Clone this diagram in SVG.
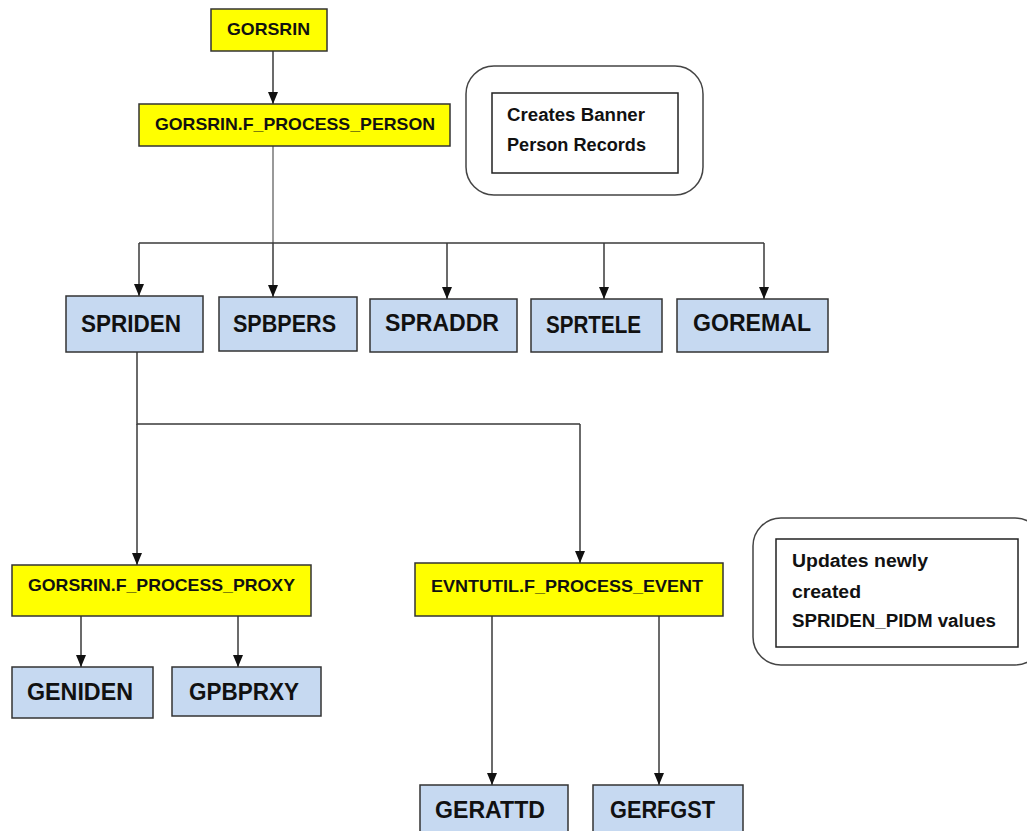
<svg xmlns="http://www.w3.org/2000/svg" width="1027" height="831" viewBox="0 0 1027 831">
<defs>
<marker id="arr" viewBox="0 0 12 10" refX="12" refY="5" markerWidth="12" markerHeight="10" markerUnits="userSpaceOnUse" orient="auto">
<path d="M0,0 L12,5 L0,10 Z" fill="#111"/>
</marker>
<style>
.y{fill:#ffff00;stroke:#333;stroke-width:1.5}
.b{fill:#c6d9f1;stroke:#333;stroke-width:1.5}
.ty{font-family:"Liberation Sans",Arial,sans-serif;font-weight:bold;font-size:17px;fill:#111}
.tb{font-family:"Liberation Sans",Arial,sans-serif;font-weight:bold;font-size:24px;fill:#111}
.tc{font-family:"Liberation Sans",Arial,sans-serif;font-weight:bold;font-size:18px;fill:#111}
.c{fill:none;stroke:#3a3a3a;stroke-width:1.5}
.ca{fill:none;stroke:#3a3a3a;stroke-width:1.5;marker-end:url(#arr)}
.ro{fill:#fff;stroke:#444;stroke-width:1.5}
.ri{fill:#fff;stroke:#222;stroke-width:1.5}
</style>
</defs>
<rect width="1027" height="831" fill="#fff"/>
<g id="connectors">
<path class="ca" d="M273,51 V104"/>
<path class="c" d="M273,146 V243" style="stroke:#777"/>
<path class="c" d="M139,243 H764"/>
<path class="ca" d="M139,243 V296"/>
<path class="ca" d="M273,243 V297"/>
<path class="ca" d="M447,243 V299"/>
<path class="ca" d="M604,243 V299"/>
<path class="ca" d="M764,243 V299"/>
<path class="c" d="M137,352 V424 H580"/>
<path class="ca" d="M137,424 V565"/>
<path class="ca" d="M580,424 V563"/>
<path class="ca" d="M81,616 V667"/>
<path class="ca" d="M238,616 V667"/>
<path class="ca" d="M492,616 V785"/>
<path class="ca" d="M659,616 V785"/>
</g>
<g id="gorsrin">
<rect class="y" x="211" y="9" width="116" height="42"/>
<text class="ty" x="227" y="35" textLength="83" lengthAdjust="spacingAndGlyphs">GORSRIN</text>
</g>
<g id="process_person">
<rect class="y" x="139" y="104" width="311" height="42"/>
<text class="ty" x="155" y="130" textLength="280" lengthAdjust="spacingAndGlyphs">GORSRIN.F_PROCESS_PERSON</text>
</g>
<g id="note1">
<rect class="ro" x="466" y="66" width="237" height="129" rx="28" ry="28"/>
<rect class="ri" x="492" y="93" width="186" height="80"/>
<text class="tc" x="507" y="121" textLength="138" lengthAdjust="spacingAndGlyphs">Creates Banner</text>
<text class="tc" x="507" y="151" textLength="139" lengthAdjust="spacingAndGlyphs">Person Records</text>
</g>
<g id="spriden">
<rect class="b" x="66" y="296" width="137" height="56"/>
<text class="tb" x="81" y="332" textLength="100" lengthAdjust="spacingAndGlyphs">SPRIDEN</text>
</g>
<g id="spbpers">
<rect class="b" x="219" y="297" width="138" height="54"/>
<text class="tb" x="233" y="332" textLength="103" lengthAdjust="spacingAndGlyphs">SPBPERS</text>
</g>
<g id="spraddr">
<rect class="b" x="370" y="299" width="147" height="53"/>
<text class="tb" x="385" y="331" textLength="114" lengthAdjust="spacingAndGlyphs">SPRADDR</text>
</g>
<g id="sprtele">
<rect class="b" x="531" y="299" width="131" height="53"/>
<text class="tb" x="546" y="333" textLength="95" lengthAdjust="spacingAndGlyphs">SPRTELE</text>
</g>
<g id="goremal">
<rect class="b" x="677" y="299" width="151" height="53"/>
<text class="tb" x="693" y="331" textLength="118" lengthAdjust="spacingAndGlyphs">GOREMAL</text>
</g>
<g id="process_proxy">
<rect class="y" x="12" y="565" width="299" height="51"/>
<text class="ty" x="28" y="591" textLength="267" lengthAdjust="spacingAndGlyphs">GORSRIN.F_PROCESS_PROXY</text>
</g>
<g id="process_event">
<rect class="y" x="415" y="563" width="308" height="53"/>
<text class="ty" x="431" y="592" textLength="272" lengthAdjust="spacingAndGlyphs">EVNTUTIL.F_PROCESS_EVENT</text>
</g>
<g id="note2">
<rect class="ro" x="753" y="518" width="290" height="147" rx="28" ry="28"/>
<rect class="ri" x="776" y="539" width="242" height="108"/>
<text class="tc" x="792" y="567" textLength="136" lengthAdjust="spacingAndGlyphs">Updates newly</text>
<text class="tc" x="792" y="598" textLength="69" lengthAdjust="spacingAndGlyphs">created</text>
<text class="tc" x="792" y="627" textLength="204" lengthAdjust="spacingAndGlyphs">SPRIDEN_PIDM values</text>
</g>
<g id="geniden">
<rect class="b" x="12" y="667" width="141" height="51"/>
<text class="tb" x="27" y="700" textLength="106" lengthAdjust="spacingAndGlyphs">GENIDEN</text>
</g>
<g id="gpbprxy">
<rect class="b" x="172" y="667" width="149" height="49"/>
<text class="tb" x="189" y="700" textLength="110" lengthAdjust="spacingAndGlyphs">GPBPRXY</text>
</g>
<g id="gerattd">
<rect class="b" x="420" y="785" width="148" height="60"/>
<text class="tb" x="435" y="818" textLength="110" lengthAdjust="spacingAndGlyphs">GERATTD</text>
</g>
<g id="gerfgst">
<rect class="b" x="593" y="785" width="150" height="60"/>
<text class="tb" x="610" y="818" textLength="105" lengthAdjust="spacingAndGlyphs">GERFGST</text>
</g>
</svg>
